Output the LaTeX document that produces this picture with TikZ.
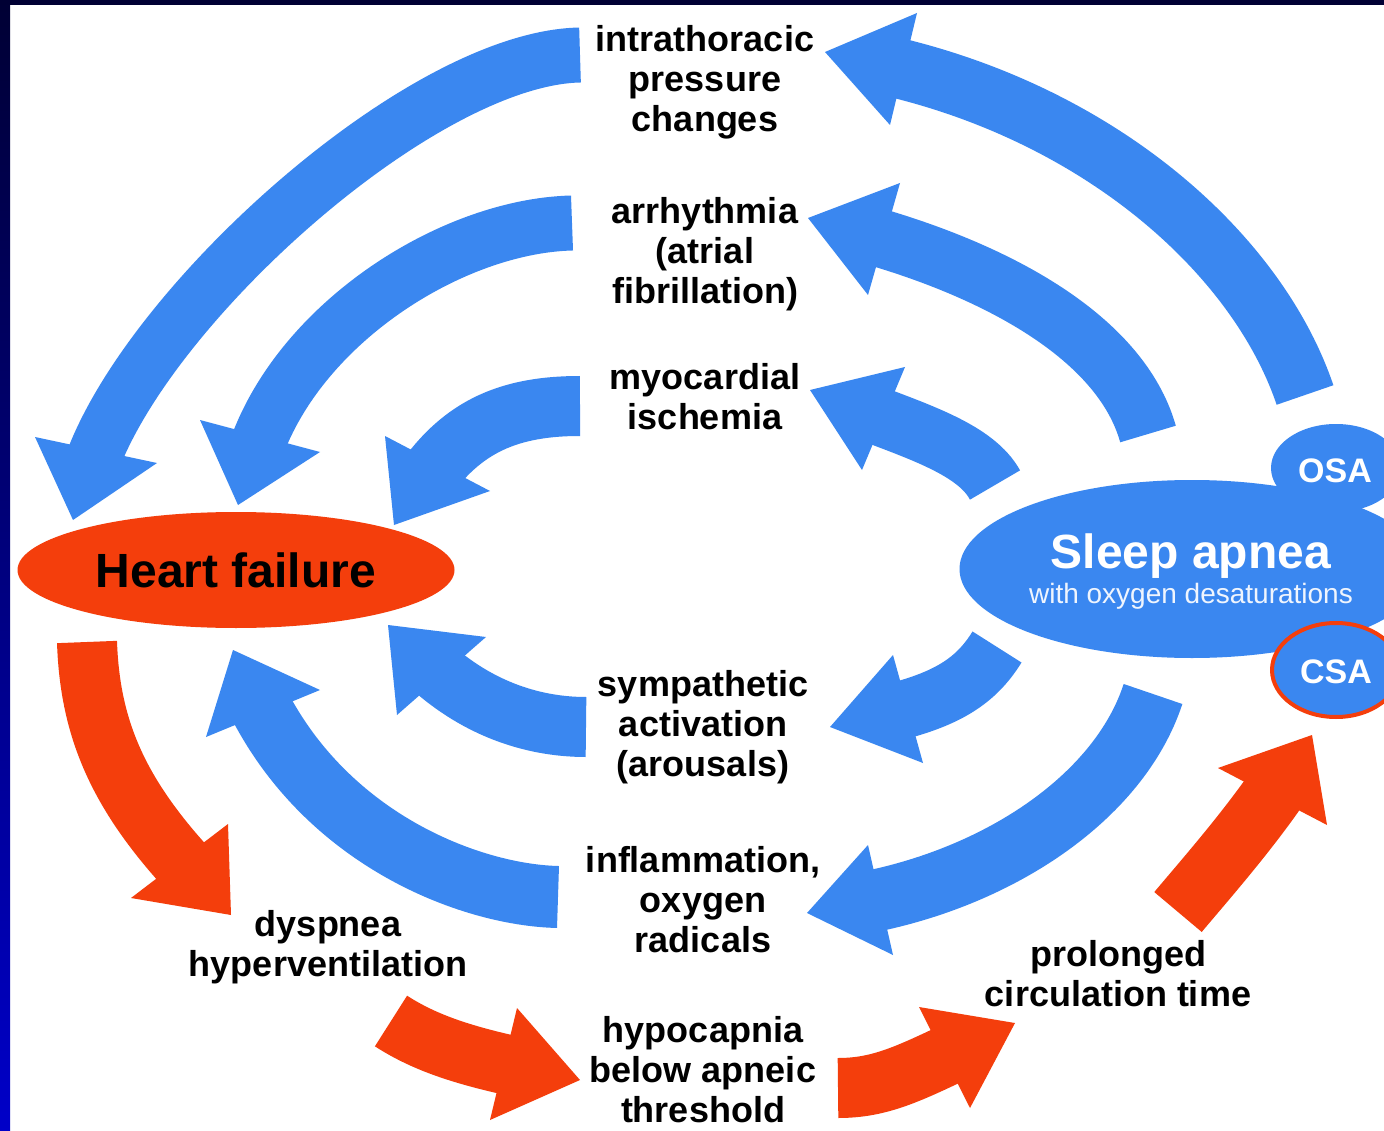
\documentclass[tikz,border=0pt]{standalone}
\usepackage{fontspec}
\setmainfont{Liberation Sans}
\usetikzlibrary{calc,shapes.geometric}
\definecolor{bluec}{RGB}{58,135,240}
\definecolor{redc}{RGB}{244,62,12}
\definecolor{navy}{RGB}{0,0,52}
\definecolor{edgeblue}{RGB}{0,0,200}
% #1 style, #2 tail, #3 first control, #4 head base, #5 tip, #6 barb, #7 barb, #8 back factor
\newcommand\blockarrow[8]{%
  \fill[#1] (#6) -- (#5) -- (#7) -- cycle;
  \draw[#1, line cap=butt] (#2) .. controls (#3) and ($(#4)!-#8!(#5)$) .. ($(#4)!0.3!(#5)$);
}
\begin{document}
\begin{tikzpicture}[x=1pt,y=-1pt,
  bluearr/.style={color=bluec,line width=#1},
  redarr/.style={color=redc,line width=#1},
  lbl/.style={font=\bfseries\fontsize{36}{40}\selectfont,align=center,inner sep=0pt,text=black}]
\useasboundingbox (0,0) rectangle (1384,1131);
\clip (0,0) rectangle (1384,1131);
\fill[white] (0,0) rectangle (1384,1131);
\shade[top color=navy, bottom color=edgeblue] (0,0) rectangle (10,1131);
\fill[navy] (0,0) rectangle (1384,5);

% ---------- labels ----------
\node[lbl] (intra) at (705,82) {intrathoracic\\pressure\\changes};
\node[lbl] (arrh) at (705,254) {arrhythmia\\(atrial\\fibrillation)};
\node[lbl] (myo) at (705,397) {myocardial\\ischemia};
\node[lbl] (symp) at (703,727) {sympathetic\\activation\\(arousals)};
\node[lbl] (infl) at (703,900) {inflammation,\\oxygen\\radicals};
\node[lbl] (dysp) at (328,947) {dyspnea\\hyperventilation};
\node[lbl] (hypo) at (703,1070) {hypocapnia\\below apneic\\threshold};
\node[lbl] (prol) at (1118,974) {prolonged\\circulation time};

% ---------- main ellipses ----------
\node[ellipse, fill=redc, minimum width=437pt, minimum height=116pt, inner sep=0pt,
      font=\bfseries\fontsize{48}{50}\selectfont] (hf) at (236,570) {Heart failure};
\node[ellipse, fill=bluec, minimum width=465pt, minimum height=178pt, inner sep=0pt] (sa) at (1192,569) {};
\node[ellipse, fill=bluec, minimum width=130pt, minimum height=88pt, inner sep=0pt] (osa) at (1336,468) {};
\node[ellipse, fill=bluec, draw=redc, line width=4pt, minimum width=128pt, minimum height=94pt, inner sep=0pt] (csa) at (1336,670) {};
\node[anchor=base, text=white, inner sep=0pt, font=\bfseries\fontsize{48}{50}\selectfont] (satitle) at (1191,568) {Sleep apnea};
\node[anchor=base, text=white!92!bluec, inner sep=0pt, font=\fontsize{28}{30}\selectfont] (sasub) at (1191,603) {with oxygen desaturations};
\node[anchor=base, text=white, inner sep=0pt, font=\bfseries\fontsize{34}{36}\selectfont] (osat) at (1335,482) {OSA};
\node[anchor=base, text=white, inner sep=0pt, font=\bfseries\fontsize{34}{36}\selectfont] (csat) at (1336,683) {CSA};

% ---------- blue arrows towards heart failure ----------
\coordinate (a1t) at (580,55);  \coordinate (a1c) at (420,58);
\coordinate (a1b) at (96,450);  \coordinate (a1p) at (73,520);
\coordinate (a1l) at (35,437);  \coordinate (a1r) at (157,463);
\blockarrow{bluearr=55pt}{a1t}{a1c}{a1b}{a1p}{a1l}{a1r}{2}

\coordinate (a2t) at (572,223); \coordinate (a2c) at (450,226);
\coordinate (a2b) at (260,436); \coordinate (a2p) at (238,505);
\coordinate (a2l) at (200,420); \coordinate (a2r) at (320,452);
\blockarrow{bluearr=55pt}{a2t}{a2c}{a2b}{a2p}{a2l}{a2r}{1.6}

\coordinate (a3t) at (580,406); \coordinate (a3c) at (510,406);
\coordinate (a3b) at (437,463); \coordinate (a3p) at (394,525);
\coordinate (a3l) at (385,436); \coordinate (a3r) at (490,491);
\blockarrow{bluearr=60pt}{a3t}{a3c}{a3b}{a3p}{a3l}{a3r}{0.6}

\coordinate (a4t) at (586,727); \coordinate (a4c) at (530,727);
\coordinate (a4b) at (441,676); \coordinate (a4p) at (388,625);
\coordinate (a4l) at (486,637); \coordinate (a4r) at (397,715);
\blockarrow{bluearr=60pt}{a4t}{a4c}{a4b}{a4p}{a4l}{a4r}{0.6}

\coordinate (a5t) at (558,897); \coordinate (a5c) at (470,895);
\coordinate (a5b) at (263,713); \coordinate (a5p) at (233,650);
\coordinate (a5l) at (320,690); \coordinate (a5r) at (206,737);
\blockarrow{bluearr=62pt}{a5t}{a5c}{a5b}{a5p}{a5l}{a5r}{2}

% ---------- blue arrows from sleep apnea ----------
\coordinate (b1t) at (1305,395); \coordinate (b1c) at (1257,253);
\coordinate (b1b) at (903,69);   \coordinate (b1p) at (825,52);
\coordinate (b1l) at (917,13);   \coordinate (b1r) at (890,125);
\blockarrow{bluearr=60pt}{b1t}{b1c}{b1b}{b1p}{b1l}{b1r}{2.5}

\coordinate (b2t) at (1148,434); \coordinate (b2c) at (1121,338);
\coordinate (b2b) at (884,239);  \coordinate (b2p) at (808,218);
\coordinate (b2l) at (900,183);  \coordinate (b2r) at (868,295);
\blockarrow{bluearr=58pt}{b2t}{b2c}{b2b}{b2p}{b2l}{b2r}{1.5}

\coordinate (b3t) at (995,485);  \coordinate (b3c) at (976,450);
\coordinate (b3b) at (883,418);  \coordinate (b3p) at (810,390);
\coordinate (b3l) at (905,367);  \coordinate (b3r) at (862,470);
\blockarrow{bluearr=58pt}{b3t}{b3c}{b3b}{b3p}{b3l}{b3r}{0.5}

\coordinate (b4t) at (997,647);  \coordinate (b4c) at (976,681);
\coordinate (b4b) at (908,709);  \coordinate (b4p) at (830,727);
\coordinate (b4l) at (893,655);  \coordinate (b4r) at (923,763);
\blockarrow{bluearr=58pt}{b4t}{b4c}{b4b}{b4p}{b4l}{b4r}{0.5}

\coordinate (b5t) at (1153,694); \coordinate (b5c) at (1119,798);
\coordinate (b5b) at (880,900);  \coordinate (b5p) at (807,913);
\coordinate (b5l) at (868,845);  \coordinate (b5r) at (893,955);
\blockarrow{bluearr=62pt}{b5t}{b5c}{b5b}{b5p}{b5l}{b5r}{1.6}

% ---------- red arrows (central apnea loop) ----------
\coordinate (r1t) at (87,642);   \coordinate (r1c) at (90,730);
\coordinate (r1b) at (180,861);  \coordinate (r1p) at (231,915);
\coordinate (r1l) at (131,898);  \coordinate (r1r) at (228,824);
\blockarrow{redarr=60pt}{r1t}{r1c}{r1b}{r1p}{r1l}{r1r}{1.2}

\coordinate (r2t) at (391,1021); \coordinate (r2c) at (425,1043);
\coordinate (r2b) at (503,1064); \coordinate (r2p) at (580,1080);
\coordinate (r2l) at (517,1008); \coordinate (r2r) at (490,1120);
\blockarrow{redarr=60pt}{r2t}{r2c}{r2b}{r2p}{r2l}{r2r}{0.5}

\coordinate (r3t) at (838,1088); \coordinate (r3c) at (880,1088);
\coordinate (r3b) at (944,1057); \coordinate (r3p) at (1015,1023);
\coordinate (r3l) at (919,1007); \coordinate (r3r) at (970,1108);
\blockarrow{redarr=60pt}{r3t}{r3c}{r3b}{r3p}{r3l}{r3r}{0.5}

\coordinate (r4t) at (1178,912); \coordinate (r4c) at (1204,881);
\coordinate (r4b) at (1272,796); \coordinate (r4p) at (1312,735);
\coordinate (r4l) at (1218,768); \coordinate (r4r) at (1327,825);
\blockarrow{redarr=62pt}{r4t}{r4c}{r4b}{r4p}{r4l}{r4r}{0.5}
\end{tikzpicture}
\end{document}
